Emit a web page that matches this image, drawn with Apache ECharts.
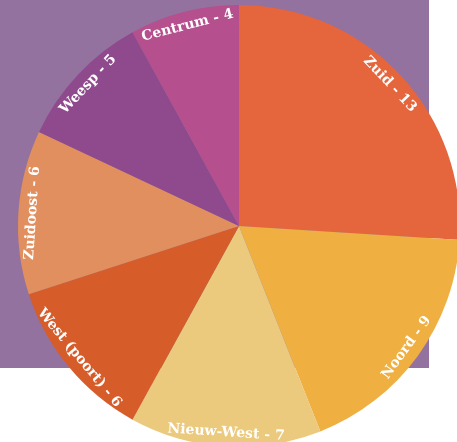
<!DOCTYPE html>
<html>
<head>
<meta charset="utf-8">
<script src="https://cdn.jsdelivr.net/npm/echarts@6/dist/echarts.min.js"></script>
<style>html,body{margin:0;padding:0;background:#fff;}#c{width:457px;height:442px;}</style>
</head>
<body>
<div id="c"></div>
<script>
const categories = ['Zuid', 'Noord', 'Nieuw-West', 'West (poort)', 'Zuidoost', 'Weesp', 'Centrum'];
const values = [13, 9, 7, 6, 6, 5, 4];
const colors = ['#e5653d', '#efaf41', '#ebc97d', '#d65c2a', '#e18f5f', '#8e4a8d', '#b54f8d'];

const data = categories.map((c, i) => ({ name: c, value: values[i], itemStyle: { color: colors[i] } }));
const labelData = categories.map((c, i) => ({ name: c, value: values[i] }));

const chart = echarts.init(document.getElementById('c'), null, { renderer: 'canvas' });
chart.setOption({
  animation: false,
  backgroundColor: '#ffffff',
  graphic: [{
    type: 'rect', z: -10, silent: true,
    shape: { x: 0, y: 0, width: 429, height: 368 },
    style: { fill: '#93729f' }
  }],
  series: [{
    type: 'pie',
    center: [239, 226],
    radius: [0, 221],
    startAngle: 90,
    clockwise: true,
    label: { show: false },
    labelLine: { show: false },
    itemStyle: { borderWidth: 0 },
    emphasis: { disabled: true },
    silent: true,
    data: data
  }, {
    type: 'pie',
    center: [239, 226],
    radius: [186, 222],
    startAngle: 90,
    clockwise: true,
    silent: true,
    emphasis: { disabled: true },
    itemStyle: { color: 'rgba(0,0,0,0)', borderWidth: 0 },
    labelLine: { show: false },
    label: {
      show: true,
      position: 'inside',
      rotate: 'tangential',
      formatter: p => p.name + ' - ' + p.value,
      color: '#ffffff',
      fontFamily: 'DejaVu Serif',
      fontWeight: 'bold',
      fontSize: 14
    },
    data: labelData
  }]
});
</script>
</body>
</html>
